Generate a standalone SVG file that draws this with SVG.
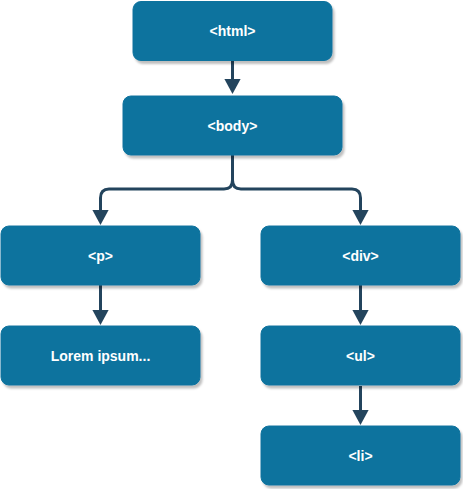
<svg xmlns="http://www.w3.org/2000/svg" width="463" height="489" viewBox="0 0 463 489">
<style>
.box{fill:#10739E;stroke:#10739E;stroke-width:1}
.lbl{fill:#ffffff;font-family:"Liberation Sans",Arial,sans-serif;font-size:14px;font-weight:bold;text-anchor:middle;dominant-baseline:central}
.edge{fill:none;stroke:#23445D;stroke-width:3}
</style>
<defs>
<filter id="sh" x="-10%" y="-10%" width="130%" height="140%">
<feDropShadow dx="2" dy="3" stdDeviation="1.2" flood-color="#000" flood-opacity="0.25"/>
</filter>
<marker id="ah" markerWidth="5" markerHeight="5.4" refX="0" refY="2.7" orient="auto" markerUnits="strokeWidth" viewBox="0 0 5 5.4">
<path d="M0,0 L5,2.7 L0,5.4 Z" fill="#23445D"/>
</marker>
</defs>
<g id="edges">
<path class="edge" d="M232.5,60 V79" marker-end="url(#ah)"/>
<path class="edge" d="M232.5,155 V180 Q232.5,189 224,189 H109 Q100.5,189 100.5,198 V210" marker-end="url(#ah)"/>
<path class="edge" d="M232.5,155 V180 Q232.5,189 241,189 H352 Q360.5,189 360.5,198 V210" marker-end="url(#ah)"/>
<path class="edge" d="M100.5,285 V310" marker-end="url(#ah)"/>
<path class="edge" d="M360.5,285 V310" marker-end="url(#ah)"/>
<path class="edge" d="M360.5,386 V410" marker-end="url(#ah)"/>
</g>
<g id="html"><rect class="box" filter="url(#sh)" x="133" y="1.5" width="199" height="59" rx="8"/><text class="lbl" x="232.5" y="31">&lt;html&gt;</text></g>
<g id="body"><rect class="box" filter="url(#sh)" x="123" y="96" width="219" height="59" rx="8"/><text class="lbl" x="232.5" y="126">&lt;body&gt;</text></g>
<g id="p"><rect class="box" filter="url(#sh)" x="1" y="226" width="199" height="59" rx="8"/><text class="lbl" x="100.5" y="256">&lt;p&gt;</text></g>
<g id="div"><rect class="box" filter="url(#sh)" x="261" y="226" width="199" height="59" rx="8"/><text class="lbl" x="360.5" y="256">&lt;div&gt;</text></g>
<g id="lorem"><rect class="box" filter="url(#sh)" x="1" y="326" width="199" height="59" rx="8"/><text class="lbl" x="100.5" y="356">Lorem ipsum...</text></g>
<g id="ul"><rect class="box" filter="url(#sh)" x="261" y="326" width="199" height="59" rx="8"/><text class="lbl" x="360.5" y="356">&lt;ul&gt;</text></g>
<g id="li"><rect class="box" filter="url(#sh)" x="261" y="426" width="199" height="59" rx="8"/><text class="lbl" x="360.5" y="456">&lt;li&gt;</text></g>
</svg>
